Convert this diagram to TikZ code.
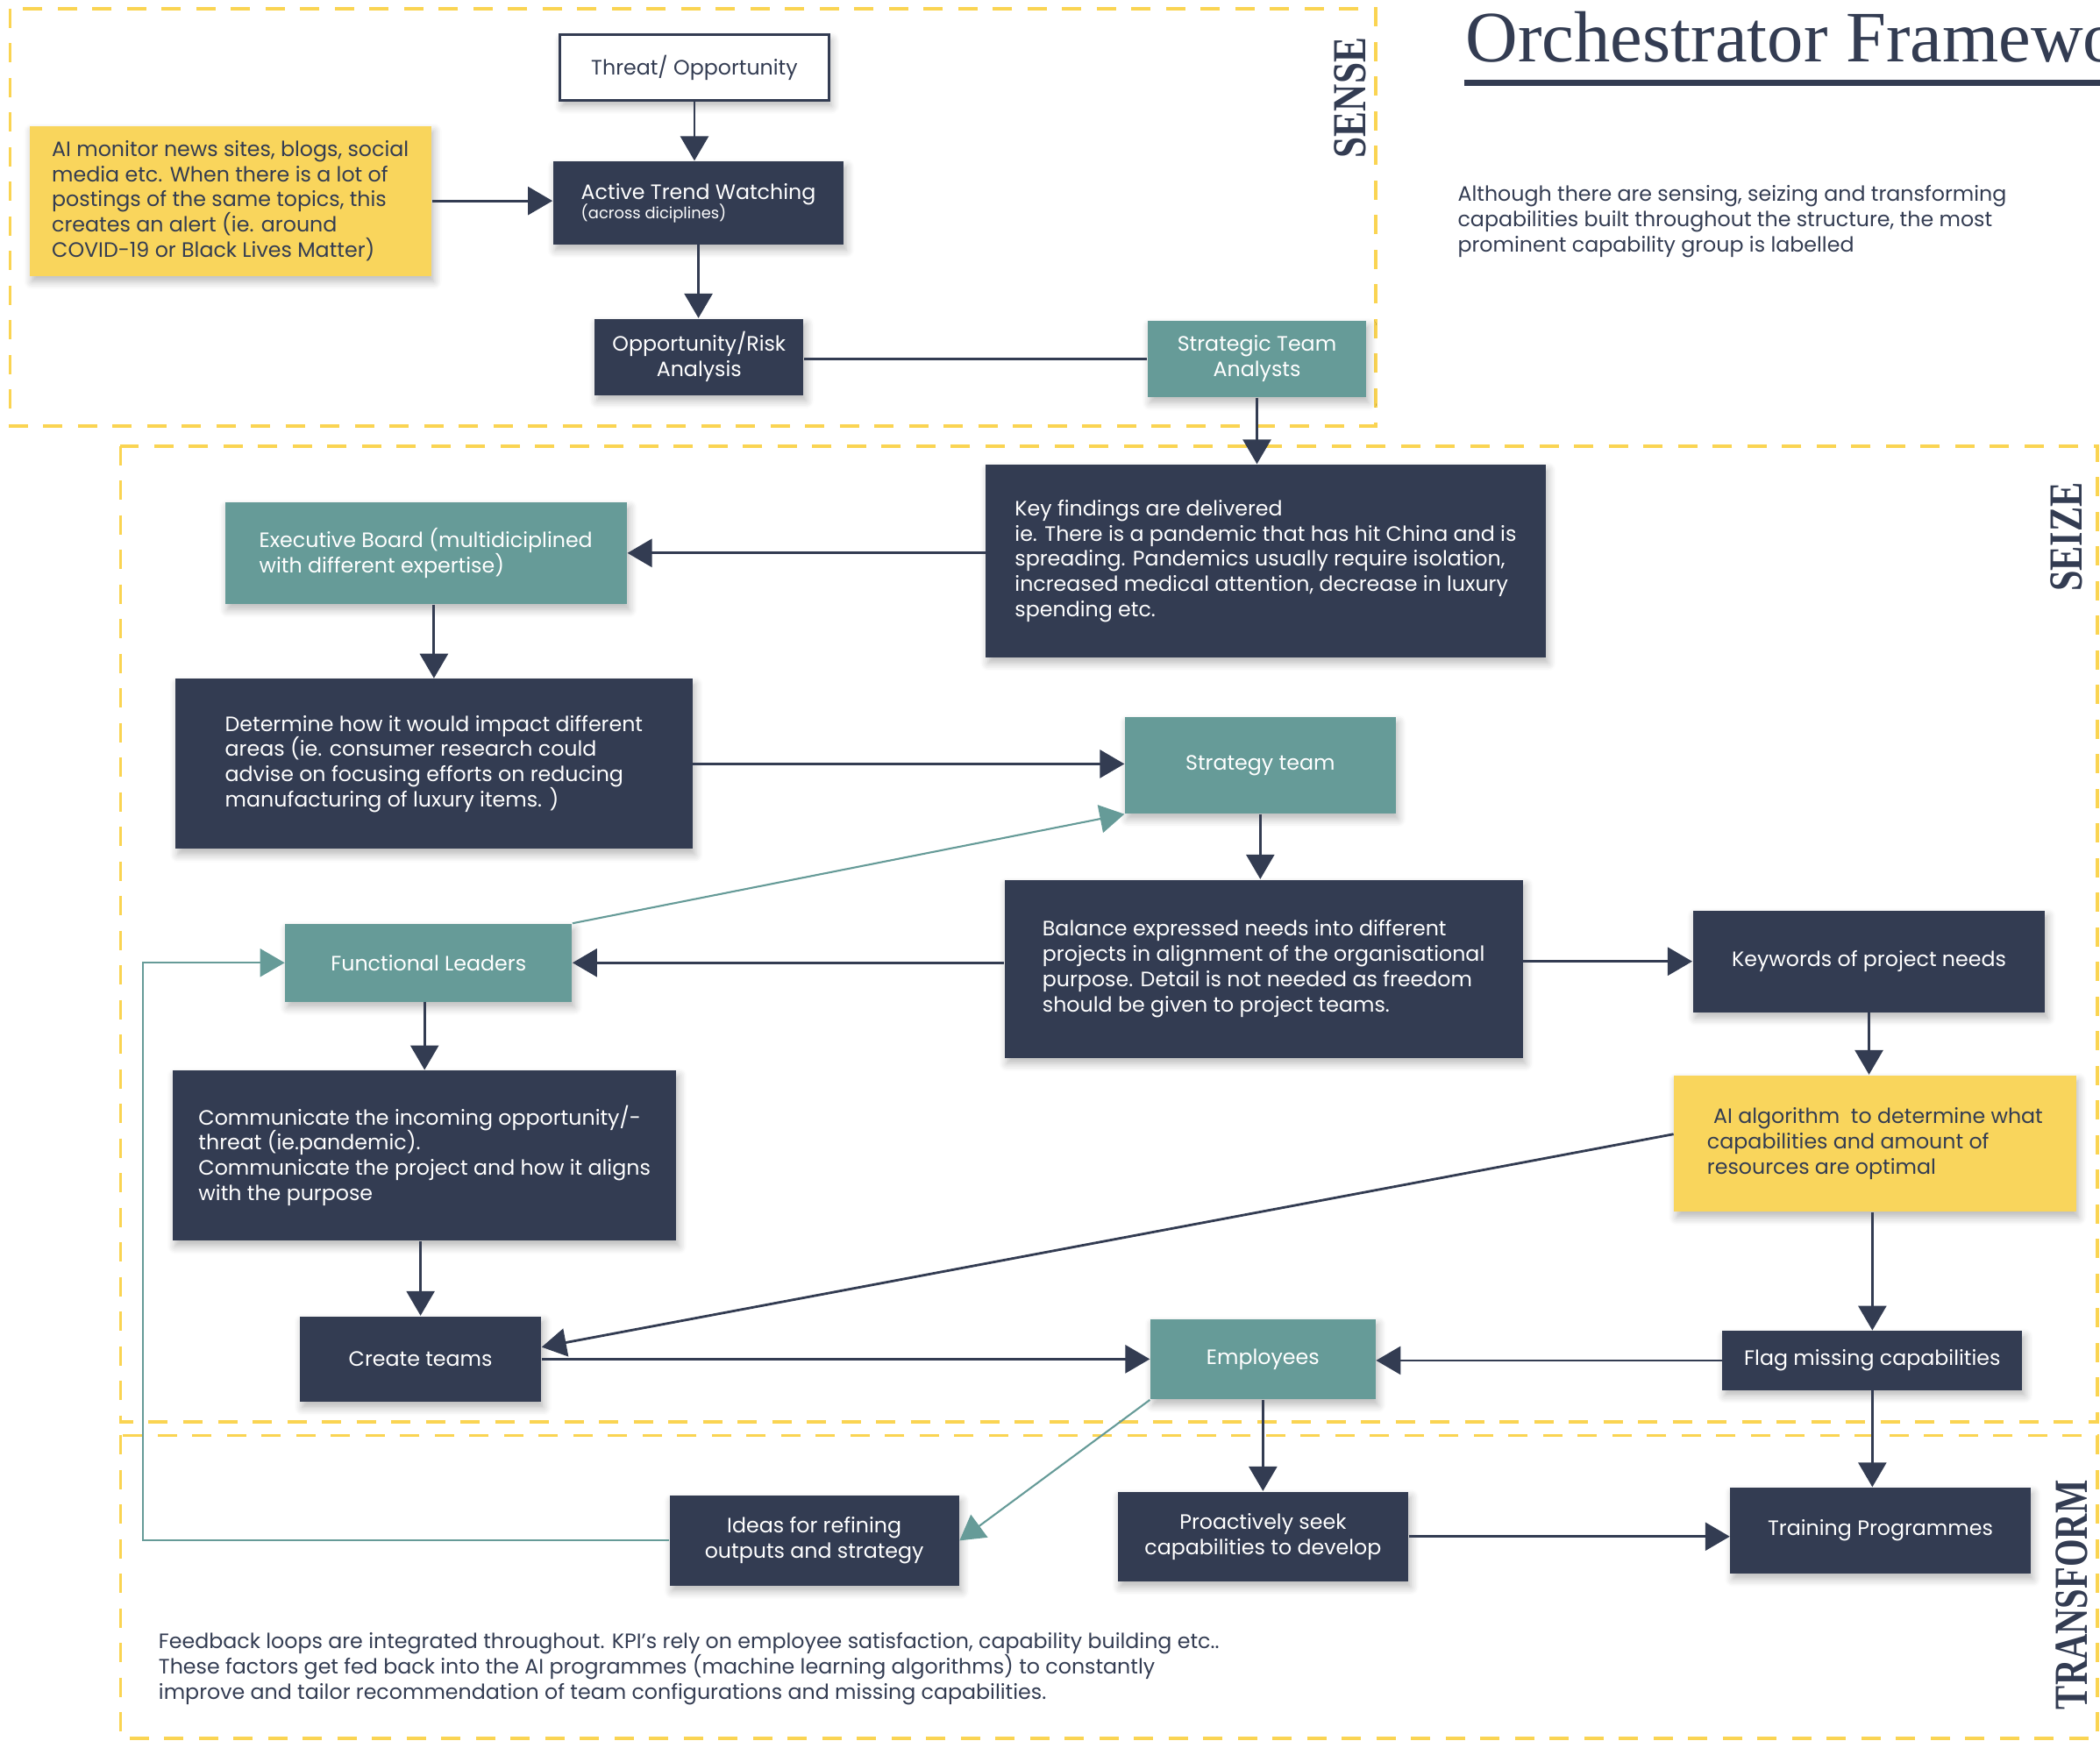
\documentclass[tikz,border=0pt]{standalone}
\usepackage{fontspec}
\usepackage{graphicx}
\setmainfont{Poppins}
\newfontfamily\headfont{Liberation Serif}
\usetikzlibrary{arrows.meta,shadows.blur,calc}

\definecolor{boxnavy}{HTML}{333C52}
\definecolor{boxteal}{HTML}{669B98}
\definecolor{noteyellow}{HTML}{F9D55C}
\definecolor{zoneyellow}{HTML}{FAD452}

\tikzset{
  sz/.style 2 args={minimum width=#1*0.15274mm, minimum height=#2*0.15274mm},
  box/.style={rectangle, inner sep=0pt, align=left,
    font=\fontsize{6.75}{8.2}\selectfont,
    blur shadow={shadow xshift=0.8pt, shadow yshift=-1.8pt,
      shadow blur radius=2.6pt, shadow opacity=28, shadow blur steps=6}},
  navybox/.style={box, fill=boxnavy, text=white},
  tealbox/.style={box, fill=boxteal, text=white},
  notebox/.style={box, fill=noteyellow, text=boxnavy},
  plainbox/.style={box, fill=white, draw=boxnavy, line width=1pt, text=boxnavy},
  conn/.style={draw=boxnavy, line width=0.8pt,
    -{Triangle[length=2.8mm,width=3.2mm]}},
  tconn/.style={draw=boxteal, line width=0.6pt,
    -{Triangle[length=2.8mm,width=3.2mm]}},
  zone/.style={draw=zoneyellow, line width=1.1pt, dash pattern=on 2.2mm off 1.75mm},
  zonelabel/.style={rotate=90, inner sep=0pt, text=boxnavy,
    font=\headfont\bfseries\fontsize{15.4}{16}\selectfont},
  note/.style={anchor=north west, inner sep=0pt, align=left, text=boxnavy,
    font=\fontsize{6.75}{8.2}\selectfont}
}

\begin{document}
\begin{tikzpicture}[x=0.15274mm, y=-0.15274mm]
\useasboundingbox (0,0) rectangle (1568,1305);

% capability zones
\draw[zone] (7.5,6.5) rectangle (1027,318);
\draw[zone] (90,333) rectangle (1566,1062);
\draw[zone] (90,1072) rectangle (1566,1298);

\node[zonelabel] (lsense) at (1008,73) {\scalebox{0.8}[1]{SENSE}};
\node[zonelabel] (lseize) at (1543,401) {\scalebox{0.78}[1]{SEIZE}};
\node[zonelabel] (ltrans) at (1547,1191) {\scalebox{0.75}[1]{TRANSFORM}};

% heading and notes
\node[anchor=base west, inner sep=0pt, text=boxnavy,
  font=\headfont\fontsize{23.5}{26}\selectfont] (title) at (1094,46) {Orchestrator Framework};
\draw[boxnavy, line width=2pt] (1093,62) -- (1568,62);
\node[note] (intro) at (1088,138) {Although there are sensing, seizing and transforming\\capabilities built throughout the structure, the most\\prominent capability group is labelled};
\node[note] (feedback) at (118,1219) {Feedback loops are integrated throughout. KPI's rely on employee satisfaction, capability building etc..\\These factors get fed back into the AI programmes (machine learning algorithms) to constantly\\improve and tailor recommendation of team configurations and missing capabilities.};

% sense
\node[plainbox, sz={201}{49}] (threat) at (518.5,50.5) {Threat/ Opportunity};
\node[notebox, sz={300}{112}] (aimon) at (172,150) {AI monitor news sites, blogs, social\\media etc. When there is a lot of\\postings of the same topics, this\\creates an alert (ie. around\\COVID-19 or Black Lives Matter)};
\node[navybox, sz={217}{62}] (atw) at (521.5,151.5) {Active Trend Watching\\[-2pt]{\fontsize{5.1}{5.5}\selectfont(across diciplines)}};
\node[navybox, sz={156}{57}, align=center] (ora) at (522,266.5) {Opportunity/Risk\\Analysis};
\node[tealbox, sz={163}{57}, align=center] (sta) at (938.5,268) {Strategic Team\\Analysts};

% seize
\node[navybox, sz={418}{144}] (key) at (945,419) {Key findings are delivered\\ie. There is a pandemic that has hit China and is\\spreading. Pandemics usually require isolation,\\increased medical attention, decrease in luxury\\spending etc.};
\node[tealbox, sz={300}{76}] (exb) at (318,413) {Executive Board (multidiciplined\\with different expertise)};
\node[navybox, sz={386}{127}] (det) at (324,570.5) {Determine how it would impact different\\areas (ie. consumer research could\\advise on focusing efforts on reducing\\manufacturing of luxury items. )};
\node[tealbox, sz={202}{72}, align=center] (stt) at (941,571.5) {Strategy team};
\node[navybox, sz={387}{133}] (bal) at (943.5,723.5) {Balance expressed needs into different\\projects in alignment of the organisational\\purpose. Detail is not needed as freedom\\should be given to project teams.};
\node[tealbox, sz={214}{58}] (fl) at (320,719) {Functional Leaders};
\node[navybox, sz={263}{76}] (kw) at (1395.5,718) {Keywords of project needs};
\node[notebox, sz={300}{102}] (aia) at (1400,854) {\hspace*{0.3em}AI algorithm~~to determine what\\capabilities and amount of\\resources are optimal};
\node[navybox, sz={376}{127}] (com) at (317,863) {Communicate the incoming opportunity/-\\threat (ie.pandemic).\\Communicate the project and how it aligns\\with the purpose};
\node[navybox, sz={180}{64}] (ct) at (314,1015) {Create teams};
\node[tealbox, sz={168}{60}] (emp) at (943,1015) {Employees};
\node[navybox, sz={224}{44}] (flag) at (1398,1016) {Flag missing capabilities};

% transform
\node[navybox, sz={224}{64}] (tp) at (1404,1143) {Training Programmes};
\node[navybox, sz={217}{67}, align=center] (pro) at (943,1147.5) {Proactively seek\\capabilities to develop};
\node[navybox, sz={216}{67}, align=center] (ide) at (608,1150.5) {Ideas for refining\\outputs and strategy};
\coordinate (fb) at (107,1150.5);

% connectors
\draw[conn] (threat.south) -- (threat.south |- atw.north);
\draw[conn] (aimon.east) -- (aimon.east -| atw.west);
\draw[conn] (atw.south) -- (atw.south |- ora.north);
\draw[boxnavy, line width=0.8pt] (sta.west -| ora.east) -- (sta.west);
\draw[conn] (sta.south) -- (sta.south |- key.north);
\draw[conn] (key.west |- exb.east) -- (exb.east);
\draw[conn] (det.north |- exb.south) -- (det.north);
\draw[conn] (det.east) -- (det.east -| stt.west);
\draw[tconn] (fl.north east) -- (stt.south west);
\draw[conn] (stt.south) -- (stt.south |- bal.north);
\draw[conn] (bal.west |- fl.east) -- (fl.east);
\draw[conn] (bal.east |- kw.west) -- (kw.west);
\draw[conn] (kw.south) -- (kw.south |- aia.north);
\draw[conn] (flag.north |- aia.south) -- (flag.north);
\draw[conn] (flag.south) -- (flag.south |- tp.north);
\draw[conn] (com.north |- fl.south) -- (com.north);
\draw[conn] (ct.north |- com.south) -- (ct.north);
\draw[conn] ([yshift=1.07mm]aia.west) -- ([yshift=1.37mm]ct.east);
\draw[conn] (ct.east) -- (ct.east -| emp.west);
\draw[conn] (flag.west) -- (flag.west -| emp.east);
\draw[conn] (emp.south) -- (emp.south |- pro.north);
\draw[conn] (pro.east) -- (pro.east -| tp.west);
\draw[tconn] (emp.south west) -- (ide.east);
\draw[tconn] (ide.west) -- (fb) |- (fl.west);
\end{tikzpicture}
\end{document}
